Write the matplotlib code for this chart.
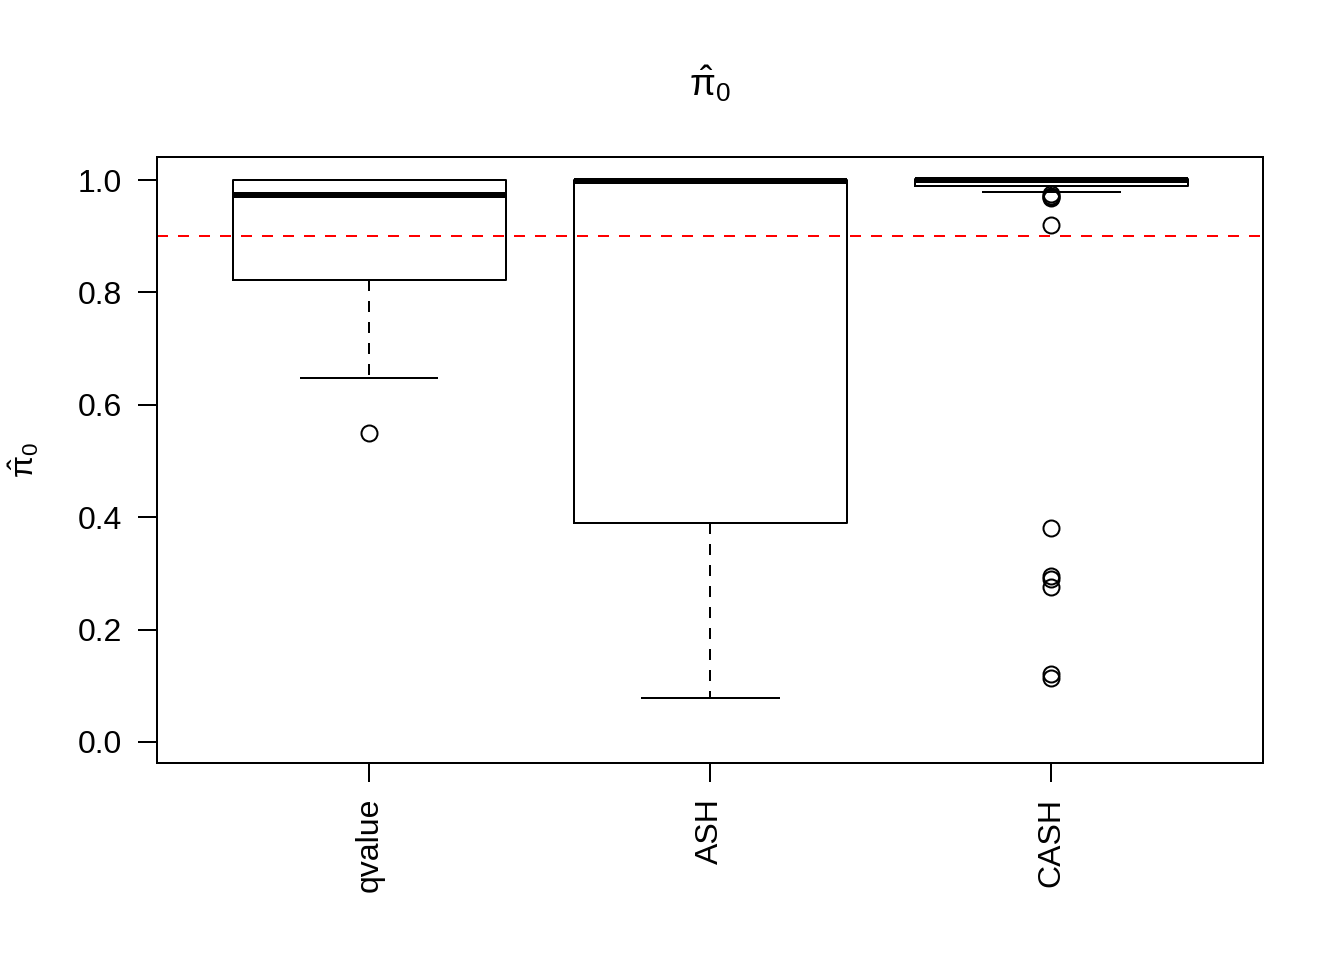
import matplotlib
matplotlib.use("Agg")
import matplotlib.pyplot as plt

plt.rcParams["font.family"] = ["Liberation Sans", "DejaVu Sans"]
plt.rcParams["mathtext.fontset"] = "custom"
plt.rcParams["mathtext.rm"] = "Liberation Sans"
plt.rcParams["mathtext.it"] = "Liberation Sans"

# boxplot summaries
methods = ["qvalue", "ASH", "CASH"]
whislo = [0.648, 0.078, 0.978]
q1 = [0.822, 0.390, 0.990]
med = [0.973, 0.998, 1.000]
q3 = [1.000, 1.000, 1.002]
whishi = [1.000, 1.000, 1.002]
fliers = [
    [0.550],
    [],
    [0.975, 0.972, 0.970, 0.968, 0.920, 0.381, 0.295, 0.290, 0.276, 0.121, 0.114],
]
pi0_true = 0.9

stats = []
for i, name in enumerate(methods):
    stats.append(dict(label=name, whislo=whislo[i], q1=q1[i], med=med[i],
                      q3=q3[i], whishi=whishi[i], fliers=fliers[i]))

fig = plt.figure(figsize=(7, 5), dpi=192)
ax = fig.add_axes([0.1168, 0.2052, 0.8229, 0.6313])

dash = (0, (5.5, 5))
ax.bxp(stats, positions=[1, 2, 3], widths=0.8, showfliers=True,
       boxprops=dict(color="black", linewidth=0.75),
       medianprops=dict(color="black", linewidth=2.25, solid_capstyle="butt"),
       whiskerprops=dict(color="black", linewidth=0.75, linestyle=dash),
       capprops=dict(color="black", linewidth=0.75),
       capwidths=0.4,
       flierprops=dict(marker="o", markerfacecolor="none", markeredgecolor="black",
                       markersize=6, markeredgewidth=0.75, linestyle="none"))

ax.axhline(pi0_true, color="red", linestyle=dash, linewidth=0.75)

ax.set_xlim(0.378, 3.62)
ax.set_ylim(-0.0374, 1.041)
ax.set_yticks([0.0, 0.2, 0.4, 0.6, 0.8, 1.0])
ax.set_yticklabels(["0.0", "0.2", "0.4", "0.6", "0.8", "1.0"])
ax.set_xticks([1, 2, 3])
ax.set_xticklabels(methods, rotation=90)
ax.tick_params(axis="both", length=7, width=0.75, labelsize=12, pad=6)

for sp in ax.spines.values():
    sp.set_linewidth(0.75)

ax.set_title(r"$\hat{\pi}_0$", fontsize=14, pad=23)
ax.set_ylabel(r"$\hat{\pi}_0$", fontsize=12, labelpad=14)

fig.savefig("out.png", dpi=192)
